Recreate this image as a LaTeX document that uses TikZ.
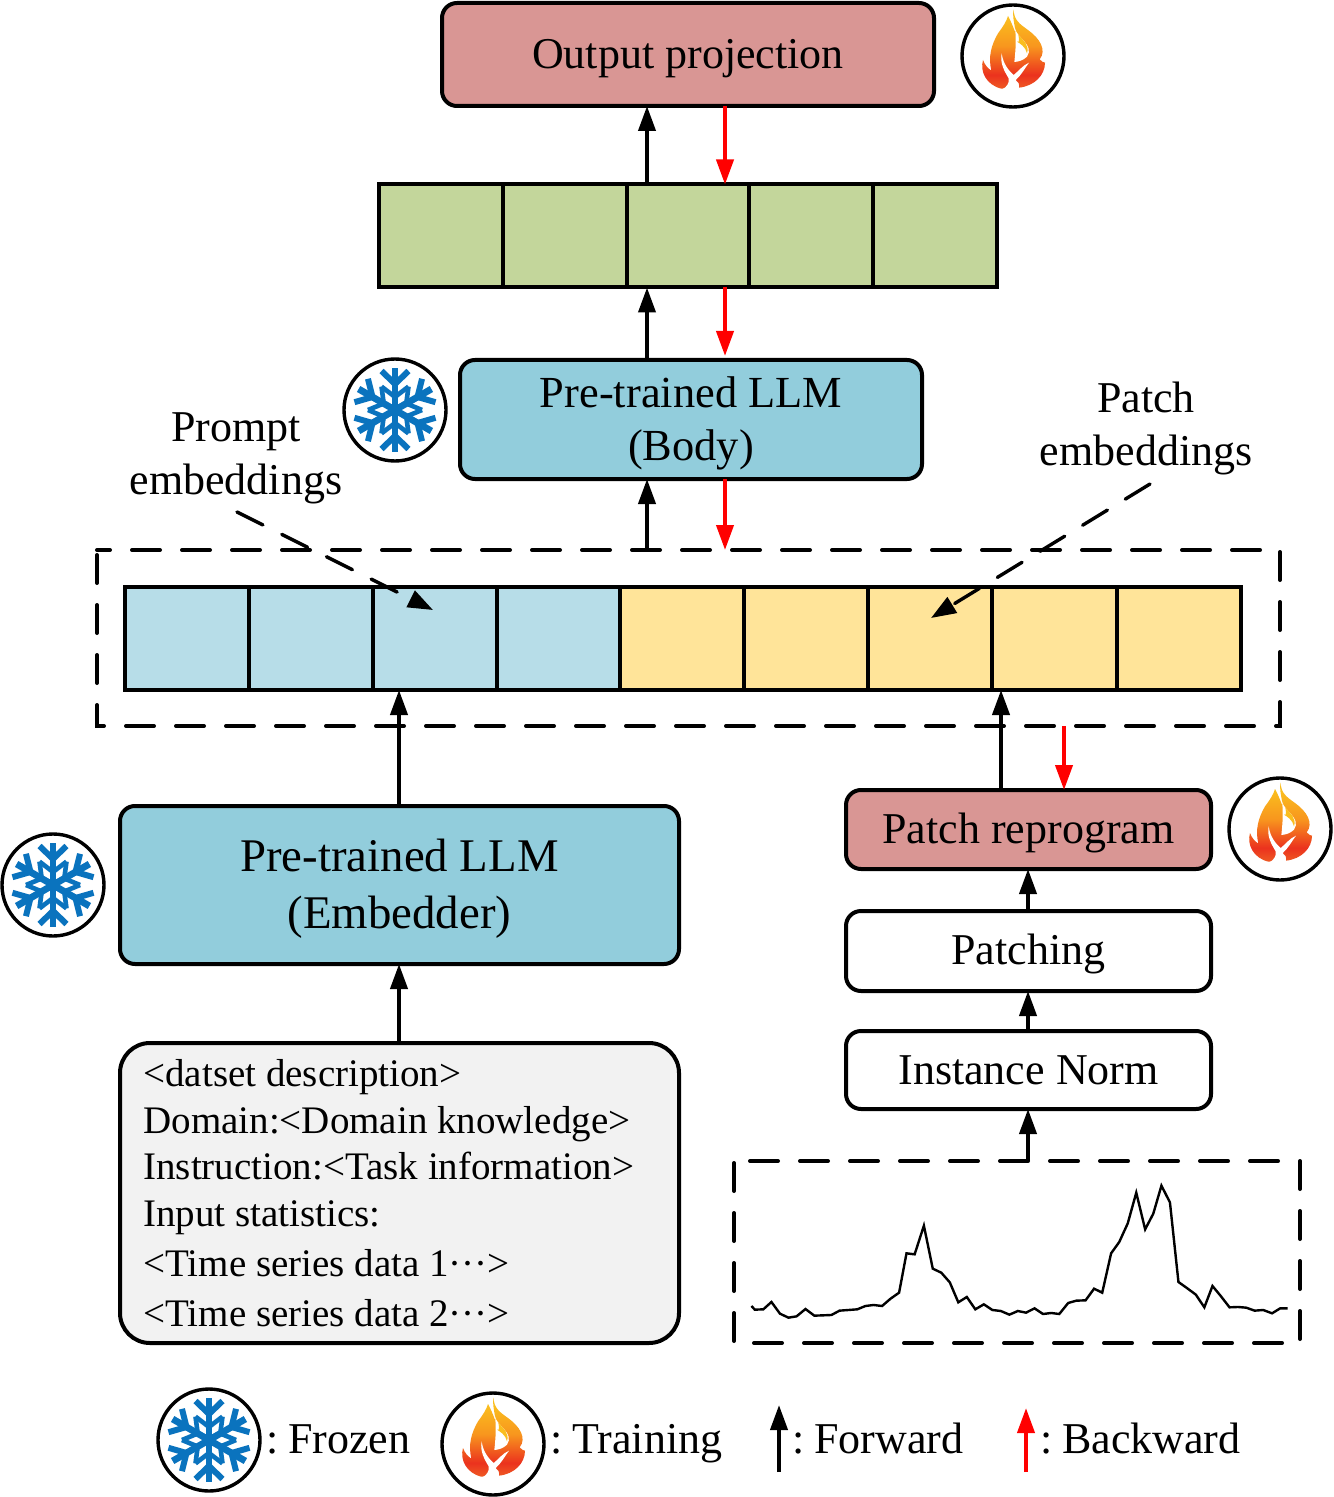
\documentclass[tikz,border=0pt]{standalone}
\usepackage{fontspec}
\setmainfont{Liberation Serif}
\usetikzlibrary{arrows.meta,calc}
\definecolor{salmon}{RGB}{217,150,148}
\definecolor{teal}{RGB}{146,205,220}
\definecolor{leaf}{RGB}{195,214,155}
\definecolor{paleblue}{RGB}{183,221,232}
\definecolor{paleyellow}{RGB}{255,228,153}
\definecolor{pale}{RGB}{242,242,242}
\definecolor{iceblue}{RGB}{10,115,190}
\definecolor{fwdred}{RGB}{255,0,0}
\definecolor{fgold}{RGB}{250,190,30}
\definecolor{fmid}{RGB}{248,150,30}
\definecolor{fred}{RGB}{235,50,30}
\definecolor{fbase}{RGB}{242,125,40}
\pgfdeclareverticalshading{flameshade}{100bp}{color(0bp)=(fbase); color(18bp)=(fbase); color(34bp)=(fred); color(52bp)=(fmid); color(70bp)=(fgold); color(100bp)=(fgold)}
\newcommand{\fsA}{\fontsize{22}{26.5}\selectfont}
\newcommand{\liftup}[1]{\rule{0pt}{#1pt}}
\tikzset{
  flowbox/.style={draw=black,line width=2pt,rounded corners=7.5pt,outer sep=0pt,align=center,inner sep=0pt,font=\fsA},
  cellbox/.style={draw=black,line width=2pt,outer sep=0pt,inner sep=0pt,minimum height=51.5pt},
  fwd/.style={draw=black,line width=2pt,-{Stealth[length=12.5pt,width=8.5pt,inset=0pt]}},
  bwd/.style={draw=fwdred,line width=2pt,-{Stealth[length=12.5pt,width=8.5pt,inset=0pt]}},
  framehold/.style={inner sep=0pt,outer sep=0pt},
  dashbox/.style={draw=black,line width=2pt,line cap=round,dash pattern=on 14pt off 11pt},
  pointer/.style={draw=black,line width=1.7pt,line cap=round,dash pattern=on 14.5pt off 10.5pt,-{Stealth[length=12.5pt,width=9pt,inset=0pt]}},
  labeltext/.style={font=\fsA,align=center,inner sep=0pt},
  linetext/.style={font=\fontsize{19.5}{23}\selectfont,anchor=base west,inner sep=0pt},
  legendtext/.style={font=\fsA,anchor=base west,inner sep=0pt},
  ring/.style={circle,draw=black,line width=1.7pt,fill=white,minimum size=51pt,inner sep=0pt,outer sep=0pt},
  snowicon/.pic={
    \foreach \a in {0,60,120,180,240,300}{
      \begin{scope}[rotate=\a]
        \draw[iceblue,line width=3.4pt] (0,0) -- (0,-42);
        \draw[iceblue,line width=3pt] (-13.5,-39) -- (0,-26) -- (13.5,-39);
        \draw[iceblue,line width=2.3pt] (-13.5,-23.4) -- (0,-13) -- (13.5,-23.4);
      \end{scope}}
  },
  flameicon/.pic={
    \begin{scope}[scale=0.3333,shift={(-220,-168)}]
      \shade[shading=flameshade]
        (222,28) .. controls (222,60) and (240,72) .. (265,90)
        .. controls (300,115) and (322,150) .. (300,178)
        .. controls (306,185) and (312,188) .. (316,188)
        .. controls (316,225) and (285,258) .. (238,263)
        .. controls (240,250) and (235,245) .. (228,240)
        .. controls (222,255) and (205,268) .. (185,266)
        .. controls (140,255) and (120,215) .. (130,180)
        .. controls (135,195) and (145,205) .. (155,212)
        .. controls (145,170) and (155,135) .. (175,100)
        .. controls (190,80) and (200,65) .. (205,48)
        .. controls (225,85) and (228,110) .. (226,85)
        .. controls (222,60) and (218,45) .. (222,28) -- cycle;
      \fill[white] (226,85) .. controls (232,115) and (285,135) .. (262,170)
        .. controls (250,182) and (235,185) .. (224,186)
        .. controls (228,150) and (230,115) .. (226,85) -- cycle;
      \fill[fgold] (236,105) .. controls (250,120) and (270,135) .. (262,160)
        .. controls (258,140) and (240,130) .. (232,125)
        .. controls (240,130) and (238,115) .. (236,105) -- cycle;
      \fill[white] (186,160) .. controls (180,190) and (195,215) .. (207,235)
        .. controls (210,250) and (200,262) .. (188,268)
        .. controls (215,268) and (228,255) .. (230,238)
        .. controls (245,225) and (255,205) .. (268,188)
        .. controls (250,195) and (235,215) .. (222,225)
        .. controls (205,210) and (190,190) .. (186,160) -- cycle;
    \end{scope}
  }
}
\begin{document}
\begin{tikzpicture}[x=0.5pt,y=-0.5pt]
\useasboundingbox (0,0) rectangle (1333,1497);
\fill[white] (0,0) rectangle (1333,1497);

% vertical guides for the connectors
\coordinate (xa) at (647,0);
\coordinate (xb) at (725,0);
\coordinate (xc) at (399,0);
\coordinate (xd) at (1001,0);
\coordinate (xe) at (1064,0);
\coordinate (xf) at (1028,0);

% boxes
\node[flowbox,fill=salmon,minimum width=246pt,minimum height=51.5pt] (output) at (688,54.5) {\liftup{19}Output projection};
\node[flowbox,fill=teal,minimum width=231pt,minimum height=59.5pt,font=\fontsize{22.2}{26.5}\selectfont] (body) at (691,419.5) {\liftup{19}Pre-trained LLM\\(Body)};
\node[flowbox,fill=teal,minimum width=279.5pt,minimum height=79pt,font=\fontsize{23.4}{28.5}\selectfont] (embedder) at (399.5,885) {\liftup{20}Pre-trained LLM\\(Embedder)};
\node[flowbox,fill=salmon,minimum width=182.5pt,minimum height=39.5pt] (reprogram) at (1028.5,829.5) {\liftup{19}Patch reprogram};
\node[flowbox,fill=white,minimum width=182.5pt,minimum height=40pt] (patching) at (1028.5,951) {\liftup{18}Patching};
\node[flowbox,fill=white,minimum width=182.5pt,minimum height=39pt] (norm) at (1028.5,1070) {Instance Norm};
\node[flowbox,fill=pale,minimum width=279.5pt,minimum height=150pt,rounded corners=15pt] (prompt) at (399.5,1193) {};

% text of the prompt box
\node[linetext] (t1) at (143,1086) {<datset description>};
\node[linetext] (t2) at (143,1133) {Domain:<Domain knowledge>};
\node[linetext] (t3) at (143,1179) {Instruction:<T{}ask information>};
\node[linetext] (t4) at (143,1226) {Input statistics:};
\node[linetext] (t5) at (143,1276) {<Time series data 1···>};
\node[linetext] (t6) at (143,1326) {<Time series data 2···>};

% dashed frames
\node[framehold,minimum width=591.5pt,minimum height=88pt] (frame) at (688.5,638) {};
\draw[dashbox,dash phase=7.5pt] (frame.north west) -- (frame.north east) -- (frame.south east) -- (frame.south west) -- cycle;
\node[framehold,minimum width=283pt,minimum height=91pt] (signalframe) at (1017,1252) {};
\draw[dashbox,dash phase=17pt] (signalframe.north west) -- (signalframe.north east) -- (signalframe.south east) -- (signalframe.south west) -- cycle;

% token rows
\foreach \n/\l/\r in {1/379/503,2/503/627,3/627/749,4/749/873,5/873/997}
  \node[cellbox,fill=leaf,minimum width={(\r-\l)*0.5pt}] (g\n) at ({(\l+\r)/2},236) {};
\foreach \n/\l/\r in {1/125/249,2/249/373,3/373/497,4/497/620}
  \node[cellbox,fill=paleblue,minimum width={(\r-\l)*0.5pt}] (p\n) at ({(\l+\r)/2},638.5) {};
\foreach \n/\l/\r in {1/620/744,2/744/868,3/868/992,4/992/1117,5/1117/1241}
  \node[cellbox,fill=paleyellow,minimum width={(\r-\l)*0.5pt}] (y\n) at ({(\l+\r)/2},638.5) {};

% forward / backward arrows
\draw[fwd] (g1.north -| xa) -- (output.south -| xa);
\draw[bwd] (output.south -| xb) -- (g1.north -| xb);
\draw[fwd] (body.north -| xa) -- (g1.south -| xa);
\draw[bwd,shorten >=2pt] (g1.south -| xb) -- (body.north -| xb);
\draw[fwd] (frame.north -| xa) -- (body.south -| xa);
\draw[bwd] (body.south -| xb) -- (frame.north -| xb);
\draw[fwd] (embedder.north -| xc) -- (p1.south -| xc);
\draw[fwd] (prompt.north -| xc) -- (embedder.south -| xc);
\draw[fwd] (reprogram.north -| xd) -- (y1.south -| xd);
\draw[bwd] (frame.south -| xe) -- (reprogram.north -| xe);
\draw[fwd] (patching.north -| xf) -- (reprogram.south -| xf);
\draw[fwd] (norm.north -| xf) -- (patching.south -| xf);
\draw[fwd] (signalframe.north -| xf) -- (norm.south -| xf);

% labels with dashed pointers
\node[labeltext] (promptlabel) at (236,458) {Prompt\\embeddings};
\node[labeltext] (patchlabel) at (1146,428) {Patch\\embeddings};
\coordinate (pa) at (237,512);
\coordinate (pb) at (433,610);
\coordinate (qa) at (1150,484);
\coordinate (qb) at (931,618);
\draw[pointer] (pa) -- (pb);
\draw[pointer] (qa) -- (qb);

% signal trace
\begin{scope}[shift={(730,1150)},xscale=0.37,yscale=0.3333]
\draw[line width=1.2pt,line join=miter] plot coordinates {(58,468)(67,479)(90,478)(112,456)(135,491)(158,503)(180,499)(204,477)(228,497)(252,496)(274,495)(296,482)(320,480)(344,478)(366,468)(388,465)(411,468)(434,446)(457,428)(477,310)(499,313)(524,227)(548,356)(571,368)(594,397)(617,457)(640,441)(663,478)(686,463)(709,480)(732,483)(755,494)(778,483)(800,488)(823,475)(846,492)(868,489)(890,492)(914,459)(936,452)(961,451)(984,416)(1006,428)(1030,310)(1052,276)(1075,220)(1098,128)(1122,238)(1144,191)(1166,107)(1189,157)(1212,396)(1236,415)(1259,434)(1282,472)(1304,408)(1327,439)(1350,472)(1373,471)(1395,473)(1418,482)(1441,480)(1465,490)(1487,475)(1507,475)};
\end{scope}

% icons
\node[ring] (fire1) at (1013,56) {};
\pic at (fire1.center) {flameicon};
\node[ring] (ice1) at (395,410) {};
\pic at (ice1.center) {snowicon};
\node[ring] (ice2) at (53,885) {};
\pic at (ice2.center) {snowicon};
\node[ring] (fire2) at (1280,829) {};
\pic at (fire2.center) {flameicon};
\node[ring] (ice3) at (209,1440) {};
\pic at (ice3.center) {snowicon};
\node[ring] (fire3) at (493,1444) {};
\pic at (fire3.center) {flameicon};

% legend
\node[legendtext] (l1) at (266,1453) {:\kern-0.7pt\ Frozen};
\node[legendtext] (l2) at (550,1453) {:\kern-0.7pt\ Training};
\node[legendtext] (l3) at (792,1453) {:\kern-0.7pt\ Forward};
\node[legendtext] (l4) at (1040,1453) {:\kern-0.7pt\ Backward};
\coordinate (la) at (779,1472);
\coordinate (lb) at (779,1405);
\coordinate (lc) at (1026,1472);
\coordinate (ld) at (1026,1408);
\draw[fwd] (la) -- (lb);
\draw[bwd] (lc) -- (ld);
\end{tikzpicture}
\end{document}
